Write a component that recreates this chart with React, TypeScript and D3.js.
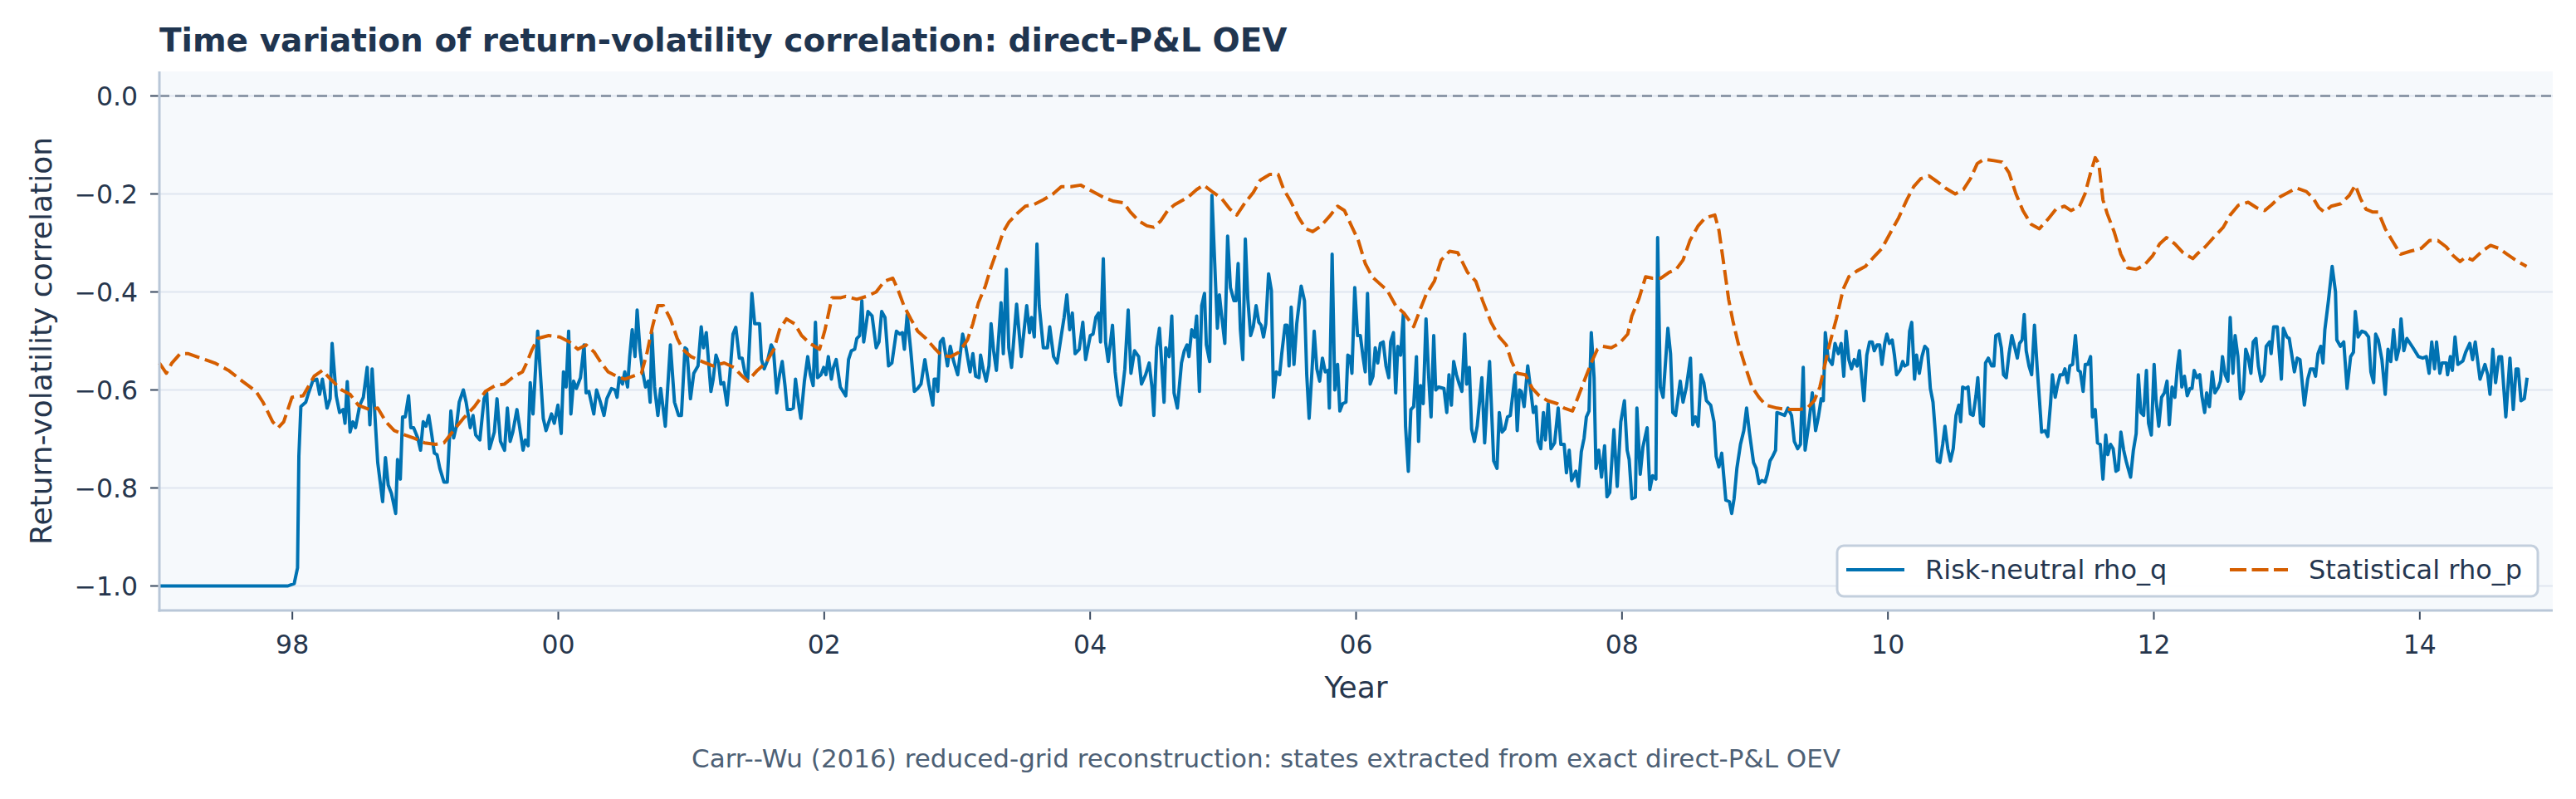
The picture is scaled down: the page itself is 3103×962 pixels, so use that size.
/**
 * Return-volatility correlation over time, risk-neutral vs statistical.
 * Drawn with D3 into a single svg.
 **/
import React, { useEffect, useRef } from "react";
import * as d3 from "d3";

type Pt = [number, number];

/** Risk-neutral rho_q, decimal year / correlation */
const rhoQ1997to1999: Pt[] = [
  [1997.0, -1.0], [1997.966, -1.0], [1998.014, -0.995], [1998.039, -0.963], [1998.049, -0.735],
  [1998.064, -0.634], [1998.101, -0.625], [1998.122, -0.606], [1998.153, -0.582], [1998.184, -0.578],
  [1998.205, -0.609], [1998.226, -0.578], [1998.261, -0.637], [1998.284, -0.618], [1998.299, -0.505],
  [1998.33, -0.612], [1998.355, -0.646], [1998.382, -0.64], [1998.396, -0.668], [1998.413, -0.583],
  [1998.434, -0.686], [1998.455, -0.665], [1998.475, -0.677], [1998.507, -0.631], [1998.534, -0.615],
  [1998.563, -0.554], [1998.583, -0.671], [1998.6, -0.557], [1998.642, -0.748], [1998.679, -0.828],
  [1998.7, -0.738], [1998.721, -0.794], [1998.746, -0.812], [1998.777, -0.852], [1998.791, -0.742],
  [1998.812, -0.782], [1998.829, -0.655], [1998.849, -0.655], [1998.874, -0.612], [1998.891, -0.677],
  [1998.912, -0.677], [1998.943, -0.698], [1998.964, -0.723], [1998.984, -0.665], [1999.005, -0.674],
  [1999.026, -0.652], [1999.047, -0.689], [1999.068, -0.729], [1999.088, -0.732], [1999.109, -0.76],
  [1999.14, -0.788], [1999.165, -0.788], [1999.192, -0.643], [1999.213, -0.698], [1999.234, -0.674],
  [1999.255, -0.625], [1999.286, -0.6], [1999.307, -0.625], [1999.338, -0.677], [1999.359, -0.652],
  [1999.379, -0.692], [1999.41, -0.702], [1999.442, -0.618], [1999.462, -0.606], [1999.483, -0.72],
  [1999.519, -0.686], [1999.539, -0.618],
];

const rhoQ1999to2002: Pt[] = [
  [1999.565, -0.705], [1999.596, -0.723], [1999.617, -0.637], [1999.638, -0.705], [1999.658, -0.686],
  [1999.689, -0.64], [1999.71, -0.677], [1999.735, -0.723], [1999.752, -0.702], [1999.773, -0.714],
  [1999.789, -0.585], [1999.81, -0.649], [1999.845, -0.48], [1999.887, -0.658], [1999.908, -0.683],
  [1999.949, -0.649], [1999.97, -0.668], [1999.997, -0.631], [2000.022, -0.689], [2000.039, -0.563],
  [2000.059, -0.594], [2000.078, -0.48], [2000.095, -0.649], [2000.115, -0.582], [2000.136, -0.597],
  [2000.167, -0.575], [2000.194, -0.508], [2000.209, -0.606], [2000.23, -0.603], [2000.267, -0.649],
  [2000.288, -0.6], [2000.317, -0.625], [2000.344, -0.652], [2000.365, -0.618], [2000.4, -0.597],
  [2000.427, -0.6], [2000.442, -0.615], [2000.458, -0.575], [2000.483, -0.588], [2000.5, -0.563],
  [2000.521, -0.594], [2000.537, -0.532], [2000.556, -0.477], [2000.577, -0.532], [2000.593, -0.437],
  [2000.614, -0.517], [2000.635, -0.563], [2000.656, -0.594], [2000.677, -0.582], [2000.691, -0.625],
  [2000.704, -0.483], [2000.724, -0.594], [2000.749, -0.652], [2000.77, -0.597], [2000.805, -0.674],
  [2000.843, -0.508], [2000.874, -0.625], [2000.905, -0.652], [2000.926, -0.652], [2000.953, -0.514],
  [2000.967, -0.517], [2000.994, -0.618], [2001.019, -0.566], [2001.051, -0.551], [2001.075, -0.471],
  [2001.092, -0.514], [2001.113, -0.483], [2001.148, -0.603], [2001.165, -0.578], [2001.186, -0.529],
  [2001.206, -0.545], [2001.223, -0.588], [2001.244, -0.585], [2001.269, -0.631], [2001.29, -0.569],
  [2001.314, -0.486], [2001.335, -0.472], [2001.362, -0.535], [2001.383, -0.535], [2001.404, -0.566],
  [2001.425, -0.578], [2001.456, -0.403], [2001.477, -0.465], [2001.514, -0.465], [2001.528, -0.538],
  [2001.549, -0.557], [2001.576, -0.538], [2001.601, -0.508], [2001.618, -0.517], [2001.643, -0.606],
  [2001.664, -0.569], [2001.684, -0.542], [2001.705, -0.591], [2001.722, -0.64], [2001.747, -0.64],
  [2001.768, -0.637], [2001.784, -0.578], [2001.809, -0.631], [2001.824, -0.658], [2001.851, -0.582],
  [2001.876, -0.532], [2001.896, -0.569], [2001.917, -0.591], [2001.934, -0.462], [2001.95, -0.575],
  [2001.975, -0.569], [2001.996, -0.554], [2002.013, -0.569], [2002.031, -0.532], [2002.054, -0.578],
  [2002.069, -0.554], [2002.09, -0.538],
];

const rhoQ2002to2004: Pt[] = [
  [2002.121, -0.594], [2002.162, -0.612], [2002.183, -0.538], [2002.204, -0.52], [2002.229, -0.517],
  [2002.245, -0.495], [2002.266, -0.489], [2002.283, -0.418], [2002.297, -0.502], [2002.329, -0.44],
  [2002.36, -0.449], [2002.391, -0.514], [2002.412, -0.502], [2002.432, -0.44], [2002.457, -0.452],
  [2002.484, -0.551], [2002.509, -0.545], [2002.543, -0.48], [2002.568, -0.486], [2002.588, -0.483],
  [2002.603, -0.517], [2002.624, -0.446], [2002.651, -0.52], [2002.678, -0.603], [2002.703, -0.597],
  [2002.728, -0.588], [2002.757, -0.538], [2002.786, -0.588], [2002.817, -0.631], [2002.827, -0.578],
  [2002.844, -0.578], [2002.854, -0.603], [2002.873, -0.502], [2002.894, -0.495], [2002.927, -0.551],
  [2002.948, -0.511], [2002.973, -0.541], [2003.004, -0.569], [2003.041, -0.486], [2003.066, -0.514],
  [2003.097, -0.563], [2003.118, -0.526], [2003.139, -0.572], [2003.164, -0.575], [2003.176, -0.529],
  [2003.195, -0.557], [2003.218, -0.582], [2003.239, -0.551], [2003.255, -0.465], [2003.274, -0.52],
  [2003.295, -0.56], [2003.33, -0.422], [2003.347, -0.526], [2003.37, -0.354], [2003.388, -0.514],
  [2003.409, -0.554], [2003.447, -0.425], [2003.482, -0.532], [2003.523, -0.428], [2003.544, -0.483],
  [2003.559, -0.452], [2003.58, -0.492], [2003.6, -0.302], [2003.617, -0.428], [2003.648, -0.514],
  [2003.679, -0.514], [2003.696, -0.471], [2003.725, -0.532], [2003.752, -0.545], [2003.783, -0.489],
  [2003.804, -0.452], [2003.825, -0.406], [2003.846, -0.477], [2003.866, -0.443], [2003.887, -0.526],
  [2003.918, -0.517], [2003.945, -0.462], [2003.966, -0.538], [2004.001, -0.489], [2004.022, -0.486],
  [2004.043, -0.452], [2004.064, -0.443], [2004.078, -0.502], [2004.099, -0.332], [2004.116, -0.502],
  [2004.136, -0.542], [2004.168, -0.468], [2004.188, -0.563], [2004.209, -0.612], [2004.23, -0.631],
  [2004.261, -0.557], [2004.286, -0.437], [2004.307, -0.566], [2004.334, -0.52], [2004.365, -0.532],
  [2004.386, -0.588], [2004.417, -0.569], [2004.444, -0.545], [2004.465, -0.594], [2004.479, -0.652],
  [2004.5, -0.514], [2004.521, -0.474], [2004.556, -0.625], [2004.569, -0.514], [2004.594, -0.532],
  [2004.614, -0.449], [2004.631, -0.606], [2004.656, -0.637],
];

const rhoQ2004to2007: Pt[] = [
  [2004.687, -0.545], [2004.708, -0.52], [2004.729, -0.508], [2004.743, -0.532], [2004.764, -0.477],
  [2004.785, -0.492], [2004.801, -0.449], [2004.822, -0.603], [2004.839, -0.428], [2004.86, -0.403],
  [2004.874, -0.508], [2004.899, -0.542], [2004.916, -0.203], [2004.937, -0.342], [2004.957, -0.474],
  [2004.972, -0.406], [2004.988, -0.446], [2005.013, -0.505], [2005.034, -0.286], [2005.055, -0.391],
  [2005.082, -0.418], [2005.097, -0.418], [2005.113, -0.342], [2005.13, -0.477], [2005.148, -0.538],
  [2005.167, -0.292], [2005.186, -0.415], [2005.207, -0.489], [2005.227, -0.471], [2005.248, -0.428],
  [2005.269, -0.462], [2005.286, -0.468], [2005.304, -0.492], [2005.321, -0.465], [2005.342, -0.363],
  [2005.363, -0.397], [2005.379, -0.615], [2005.4, -0.563], [2005.425, -0.569], [2005.441, -0.526],
  [2005.466, -0.468], [2005.481, -0.468], [2005.496, -0.551], [2005.512, -0.431], [2005.533, -0.548],
  [2005.554, -0.465], [2005.587, -0.388], [2005.612, -0.418], [2005.629, -0.569], [2005.647, -0.658],
  [2005.668, -0.563], [2005.685, -0.48], [2005.705, -0.557], [2005.726, -0.582], [2005.747, -0.535],
  [2005.768, -0.563], [2005.789, -0.56], [2005.799, -0.637], [2005.82, -0.323], [2005.84, -0.6],
  [2005.861, -0.548], [2005.878, -0.643], [2005.899, -0.628], [2005.924, -0.625], [2005.938, -0.529],
  [2005.955, -0.532], [2005.969, -0.566], [2005.99, -0.391], [2006.011, -0.489], [2006.032, -0.489],
  [2006.052, -0.532], [2006.069, -0.563], [2006.086, -0.403], [2006.106, -0.588], [2006.127, -0.572],
  [2006.144, -0.514], [2006.163, -0.545], [2006.183, -0.505], [2006.204, -0.502], [2006.225, -0.551],
  [2006.246, -0.575], [2006.26, -0.502], [2006.281, -0.483], [2006.298, -0.606], [2006.314, -0.511],
  [2006.335, -0.529], [2006.356, -0.443], [2006.372, -0.674], [2006.393, -0.766], [2006.412, -0.64],
  [2006.433, -0.634], [2006.454, -0.532], [2006.47, -0.705], [2006.485, -0.591], [2006.505, -0.628],
  [2006.526, -0.455], [2006.547, -0.578], [2006.564, -0.655], [2006.584, -0.489], [2006.599, -0.6],
  [2006.62, -0.594], [2006.661, -0.597], [2006.682, -0.646], [2006.699, -0.569], [2006.717, -0.631],
  [2006.734, -0.542], [2006.755, -0.569], [2006.776, -0.588], [2006.796, -0.603], [2006.817, -0.486],
  [2006.832, -0.588], [2006.852, -0.554], [2006.869, -0.68], [2006.89, -0.705], [2006.911, -0.674],
  [2006.946, -0.575], [2006.967, -0.708], [2006.988, -0.606], [2007.004, -0.542], [2007.035, -0.745],
  [2007.06, -0.76], [2007.077, -0.646], [2007.098, -0.686], [2007.118, -0.68], [2007.139, -0.655],
  [2007.16, -0.652], [2007.196, -0.569],
];

const rhoQ2007to2009: Pt[] = [
  [2007.212, -0.683], [2007.229, -0.6], [2007.243, -0.603], [2007.264, -0.634], [2007.291, -0.551],
  [2007.316, -0.606], [2007.333, -0.646], [2007.353, -0.634], [2007.368, -0.705], [2007.389, -0.72],
  [2007.409, -0.646], [2007.424, -0.702], [2007.445, -0.628], [2007.466, -0.72], [2007.493, -0.708],
  [2007.52, -0.637], [2007.54, -0.711], [2007.565, -0.711], [2007.582, -0.769], [2007.603, -0.723],
  [2007.621, -0.785], [2007.653, -0.766], [2007.673, -0.797], [2007.694, -0.726], [2007.715, -0.698],
  [2007.732, -0.655], [2007.752, -0.643], [2007.769, -0.483], [2007.79, -0.575], [2007.804, -0.76],
  [2007.825, -0.723], [2007.846, -0.778], [2007.869, -0.714], [2007.887, -0.818], [2007.908, -0.809],
  [2007.939, -0.681], [2007.964, -0.797], [2007.991, -0.665], [2008.018, -0.622], [2008.039, -0.723],
  [2008.054, -0.742], [2008.074, -0.822], [2008.101, -0.819], [2008.112, -0.637], [2008.137, -0.772],
  [2008.157, -0.717], [2008.189, -0.677], [2008.209, -0.803], [2008.23, -0.775], [2008.255, -0.782],
  [2008.268, -0.289], [2008.288, -0.594], [2008.309, -0.615], [2008.345, -0.474], [2008.365, -0.526],
  [2008.382, -0.646], [2008.403, -0.652], [2008.438, -0.582], [2008.459, -0.625], [2008.484, -0.594],
  [2008.515, -0.535], [2008.532, -0.671], [2008.552, -0.655], [2008.573, -0.674], [2008.594, -0.569],
  [2008.615, -0.585], [2008.635, -0.622], [2008.667, -0.631], [2008.692, -0.665], [2008.708, -0.735],
  [2008.729, -0.757], [2008.75, -0.729], [2008.781, -0.825], [2008.808, -0.828], [2008.825, -0.852],
  [2008.843, -0.822], [2008.864, -0.76], [2008.891, -0.711], [2008.916, -0.683], [2008.937, -0.637],
  [2008.958, -0.686], [2008.989, -0.748], [2009.009, -0.76], [2009.03, -0.791], [2009.051, -0.785],
  [2009.076, -0.788], [2009.093, -0.772], [2009.113, -0.745], [2009.134, -0.735], [2009.155, -0.723],
  [2009.165, -0.646], [2009.196, -0.649], [2009.223, -0.652], [2009.248, -0.637], [2009.275, -0.652],
  [2009.296, -0.705], [2009.321, -0.72], [2009.342, -0.711], [2009.363, -0.554], [2009.377, -0.723],
  [2009.404, -0.671], [2009.431, -0.606], [2009.456, -0.683], [2009.477, -0.655], [2009.498, -0.618],
  [2009.514, -0.622], [2009.529, -0.483], [2009.55, -0.535], [2009.581, -0.548], [2009.602, -0.505],
  [2009.627, -0.526], [2009.648, -0.505], [2009.668, -0.572], [2009.685, -0.48], [2009.706, -0.538],
  [2009.726, -0.557], [2009.747, -0.538],
];

const rhoQ2009to2012: Pt[] = [
  [2009.768, -0.551], [2009.785, -0.52], [2009.799, -0.563], [2009.82, -0.622], [2009.841, -0.529],
  [2009.862, -0.502], [2009.882, -0.502], [2009.897, -0.52], [2009.918, -0.508], [2009.938, -0.508],
  [2009.955, -0.548], [2009.976, -0.505], [2009.992, -0.486], [2010.011, -0.505], [2010.032, -0.498],
  [2010.049, -0.529], [2010.065, -0.569], [2010.09, -0.56], [2010.111, -0.542], [2010.125, -0.551],
  [2010.148, -0.548], [2010.163, -0.48], [2010.179, -0.462], [2010.2, -0.578], [2010.215, -0.529],
  [2010.236, -0.566], [2010.256, -0.532], [2010.277, -0.511], [2010.298, -0.517], [2010.319, -0.597],
  [2010.339, -0.625], [2010.36, -0.698], [2010.371, -0.745], [2010.391, -0.748], [2010.412, -0.711],
  [2010.429, -0.674], [2010.45, -0.72], [2010.47, -0.745], [2010.491, -0.72], [2010.512, -0.652],
  [2010.533, -0.631], [2010.547, -0.665], [2010.562, -0.594], [2010.583, -0.597], [2010.603, -0.594],
  [2010.62, -0.649], [2010.641, -0.652], [2010.662, -0.612], [2010.676, -0.575], [2010.697, -0.668],
  [2010.718, -0.674], [2010.734, -0.545], [2010.755, -0.535], [2010.78, -0.551], [2010.797, -0.551],
  [2010.811, -0.489], [2010.834, -0.486], [2010.853, -0.514], [2010.869, -0.569], [2010.89, -0.575],
  [2010.911, -0.526], [2010.932, -0.489], [2010.952, -0.511], [2010.973, -0.535], [2010.99, -0.505],
  [2011.009, -0.498], [2011.025, -0.446], [2011.04, -0.52], [2011.061, -0.551], [2011.081, -0.569],
  [2011.102, -0.468], [2011.123, -0.557], [2011.14, -0.622], [2011.156, -0.686], [2011.181, -0.683],
  [2011.202, -0.695], [2011.223, -0.628], [2011.237, -0.569], [2011.258, -0.615], [2011.275, -0.591],
  [2011.295, -0.569], [2011.316, -0.569], [2011.331, -0.557], [2011.351, -0.585], [2011.368, -0.551],
  [2011.389, -0.548], [2011.41, -0.489], [2011.43, -0.56], [2011.447, -0.563], [2011.468, -0.603],
  [2011.484, -0.548], [2011.503, -0.548], [2011.524, -0.532], [2011.538, -0.655], [2011.559, -0.64],
  [2011.576, -0.708], [2011.597, -0.711], [2011.617, -0.782], [2011.638, -0.692], [2011.653, -0.732],
  [2011.674, -0.711], [2011.694, -0.72], [2011.715, -0.766], [2011.732, -0.763], [2011.752, -0.686],
  [2011.773, -0.723], [2011.794, -0.748], [2011.825, -0.778], [2011.846, -0.723], [2011.867, -0.689],
  [2011.883, -0.569], [2011.902, -0.646], [2011.923, -0.652], [2011.944, -0.56], [2011.96, -0.668],
  [2011.981, -0.692], [2012.002, -0.548], [2012.016, -0.618], [2012.037, -0.674], [2012.058, -0.615],
  [2012.079, -0.606], [2012.099, -0.582], [2012.116, -0.671], [2012.137, -0.594], [2012.158, -0.615],
  [2012.178, -0.551], [2012.193, -0.52], [2012.21, -0.594], [2012.23, -0.572], [2012.251, -0.612],
  [2012.272, -0.597], [2012.287, -0.597], [2012.303, -0.56],
];

const rhoQ2012to2014: Pt[] = [
  [2012.324, -0.575], [2012.345, -0.569], [2012.361, -0.612], [2012.382, -0.646], [2012.397, -0.606],
  [2012.418, -0.634], [2012.439, -0.563], [2012.459, -0.606], [2012.486, -0.594], [2012.501, -0.582],
  [2012.516, -0.532], [2012.536, -0.569], [2012.557, -0.582], [2012.574, -0.452], [2012.595, -0.566],
  [2012.611, -0.489], [2012.632, -0.532], [2012.651, -0.618], [2012.674, -0.603], [2012.691, -0.517],
  [2012.709, -0.532], [2012.73, -0.566], [2012.747, -0.502], [2012.768, -0.495], [2012.786, -0.551],
  [2012.807, -0.582], [2012.83, -0.569], [2012.845, -0.511], [2012.87, -0.502], [2012.882, -0.526],
  [2012.901, -0.471], [2012.928, -0.471], [2012.959, -0.578], [2012.974, -0.474], [2013.001, -0.492],
  [2013.018, -0.495], [2013.036, -0.526], [2013.057, -0.563], [2013.078, -0.535], [2013.099, -0.538],
  [2013.132, -0.631], [2013.157, -0.578], [2013.178, -0.557], [2013.199, -0.557], [2013.216, -0.572],
  [2013.234, -0.526], [2013.255, -0.511], [2013.272, -0.545], [2013.286, -0.477], [2013.313, -0.418],
  [2013.341, -0.348], [2013.366, -0.4], [2013.376, -0.498], [2013.403, -0.511], [2013.428, -0.502],
  [2013.453, -0.597], [2013.48, -0.532], [2013.501, -0.523], [2013.515, -0.44], [2013.536, -0.492],
  [2013.563, -0.48], [2013.591, -0.483], [2013.615, -0.492], [2013.632, -0.563], [2013.653, -0.585],
  [2013.668, -0.486], [2013.688, -0.498], [2013.715, -0.538], [2013.74, -0.609], [2013.761, -0.517],
  [2013.782, -0.542], [2013.803, -0.477], [2013.824, -0.538], [2013.845, -0.514], [2013.859, -0.455],
  [2013.88, -0.52], [2013.903, -0.495], [2013.949, -0.514], [2013.99, -0.532], [2014.022, -0.535],
  [2014.049, -0.532], [2014.07, -0.566], [2014.09, -0.502], [2014.111, -0.557], [2014.126, -0.502],
  [2014.151, -0.566], [2014.167, -0.545], [2014.199, -0.545], [2014.209, -0.569], [2014.23, -0.532],
  [2014.245, -0.56], [2014.265, -0.492], [2014.286, -0.548], [2014.324, -0.541], [2014.345, -0.523],
  [2014.376, -0.505], [2014.397, -0.538], [2014.417, -0.502], [2014.453, -0.578], [2014.49, -0.548],
  [2014.511, -0.569], [2014.528, -0.609], [2014.549, -0.517], [2014.57, -0.585], [2014.595, -0.532],
  [2014.615, -0.532], [2014.647, -0.655], [2014.678, -0.535], [2014.703, -0.64], [2014.724, -0.557],
  [2014.74, -0.557], [2014.761, -0.622], [2014.786, -0.618], [2014.807, -0.575],
];

/** Statistical rho_p, decimal year / correlation */
const rhoP1997to2002: Pt[] = [
  [1997.0, -0.545], [1997.052, -0.566], [1997.094, -0.545], [1997.156, -0.526], [1997.218, -0.526],
  [1997.312, -0.535], [1997.416, -0.545], [1997.52, -0.56], [1997.623, -0.582], [1997.727, -0.603],
  [1997.779, -0.625], [1997.852, -0.665], [1997.894, -0.677], [1997.935, -0.665], [1997.997, -0.615],
  [1998.081, -0.612], [1998.164, -0.572], [1998.226, -0.56], [1998.288, -0.578], [1998.371, -0.6],
  [1998.434, -0.609], [1998.496, -0.631], [1998.579, -0.64], [1998.642, -0.637], [1998.704, -0.665],
  [1998.766, -0.683], [1998.849, -0.692], [1998.912, -0.698], [1998.995, -0.708], [1999.078, -0.711],
  [1999.14, -0.708], [1999.203, -0.686], [1999.286, -0.658], [1999.369, -0.634], [1999.452, -0.603],
  [1999.525, -0.591], [1999.596, -0.588], [1999.669, -0.572], [1999.731, -0.563], [1999.762, -0.545],
  [1999.804, -0.517], [1999.845, -0.495], [1999.928, -0.489], [2000.012, -0.492], [2000.084, -0.502],
  [2000.147, -0.517], [2000.209, -0.508], [2000.271, -0.523], [2000.323, -0.545], [2000.375, -0.563],
  [2000.438, -0.572], [2000.5, -0.578], [2000.562, -0.572], [2000.625, -0.566], [2000.666, -0.526],
  [2000.708, -0.471], [2000.749, -0.428], [2000.791, -0.428], [2000.843, -0.455], [2000.895, -0.495],
  [2000.936, -0.517], [2000.999, -0.532], [2001.082, -0.542], [2001.165, -0.551], [2001.248, -0.545],
  [2001.321, -0.554], [2001.373, -0.569], [2001.425, -0.582], [2001.497, -0.56], [2001.56, -0.545],
  [2001.622, -0.517], [2001.664, -0.477], [2001.716, -0.455], [2001.778, -0.465], [2001.83, -0.489],
  [2001.892, -0.505], [2001.965, -0.517], [2002.006, -0.477], [2002.058, -0.412], [2002.121, -0.412],
];

const rhoP2002to2007: Pt[] = [
  [2002.162, -0.409], [2002.245, -0.415], [2002.318, -0.409], [2002.391, -0.4], [2002.453, -0.378],
  [2002.516, -0.372], [2002.557, -0.397], [2002.599, -0.428], [2002.651, -0.455], [2002.703, -0.48],
  [2002.765, -0.495], [2002.827, -0.514], [2002.879, -0.529], [2002.952, -0.532], [2003.014, -0.523],
  [2003.077, -0.498], [2003.118, -0.465], [2003.16, -0.422], [2003.212, -0.388], [2003.253, -0.351],
  [2003.305, -0.311], [2003.347, -0.277], [2003.388, -0.258], [2003.451, -0.24], [2003.513, -0.225],
  [2003.575, -0.222], [2003.648, -0.212], [2003.721, -0.2], [2003.783, -0.185], [2003.856, -0.185],
  [2003.929, -0.182], [2003.991, -0.191], [2004.053, -0.2], [2004.116, -0.209], [2004.178, -0.215],
  [2004.251, -0.218], [2004.303, -0.237], [2004.365, -0.255], [2004.427, -0.265], [2004.479, -0.268],
  [2004.531, -0.255], [2004.583, -0.234], [2004.635, -0.222], [2004.739, -0.206], [2004.801, -0.191],
  [2004.853, -0.182], [2004.926, -0.197], [2004.988, -0.209], [2005.051, -0.231], [2005.103, -0.243],
  [2005.165, -0.218], [2005.227, -0.197], [2005.279, -0.172], [2005.352, -0.16], [2005.414, -0.16],
  [2005.456, -0.191], [2005.508, -0.215], [2005.57, -0.249], [2005.622, -0.271], [2005.674, -0.277],
  [2005.737, -0.265], [2005.799, -0.246], [2005.861, -0.225], [2005.913, -0.234], [2005.965, -0.265],
  [2006.017, -0.295], [2006.069, -0.342], [2006.121, -0.369], [2006.173, -0.382], [2006.235, -0.397],
  [2006.298, -0.428], [2006.36, -0.443], [2006.433, -0.471], [2006.485, -0.434], [2006.526, -0.406],
  [2006.589, -0.378], [2006.64, -0.335], [2006.703, -0.317], [2006.765, -0.32], [2006.838, -0.36],
  [2006.9, -0.378], [2006.952, -0.418], [2007.015, -0.462], [2007.077, -0.492], [2007.129, -0.508],
  [2007.17, -0.542], [2007.212, -0.566],
];

const rhoP2007to2012: Pt[] = [
  [2007.274, -0.569], [2007.326, -0.597], [2007.378, -0.612], [2007.441, -0.622], [2007.513, -0.628],
  [2007.565, -0.637], [2007.628, -0.643], [2007.669, -0.615], [2007.721, -0.578], [2007.773, -0.542],
  [2007.815, -0.517], [2007.856, -0.511], [2007.919, -0.514], [2007.981, -0.505], [2008.043, -0.486],
  [2008.074, -0.449], [2008.126, -0.415], [2008.178, -0.369], [2008.23, -0.372], [2008.293, -0.372],
  [2008.355, -0.36], [2008.407, -0.354], [2008.459, -0.335], [2008.511, -0.295], [2008.573, -0.265],
  [2008.625, -0.249], [2008.698, -0.243], [2008.729, -0.274], [2008.771, -0.354], [2008.802, -0.415],
  [2008.833, -0.458], [2008.874, -0.505], [2008.926, -0.551], [2008.978, -0.594], [2009.03, -0.615],
  [2009.082, -0.631], [2009.165, -0.637], [2009.248, -0.64], [2009.332, -0.64], [2009.394, -0.637],
  [2009.446, -0.622], [2009.488, -0.594], [2009.519, -0.557], [2009.56, -0.508], [2009.612, -0.455],
  [2009.664, -0.394], [2009.706, -0.369], [2009.768, -0.357], [2009.83, -0.348], [2009.893, -0.329],
  [2009.955, -0.311], [2010.017, -0.28], [2010.08, -0.249], [2010.142, -0.212], [2010.194, -0.185],
  [2010.246, -0.169], [2010.308, -0.163], [2010.371, -0.175], [2010.433, -0.188], [2010.506, -0.2],
  [2010.568, -0.191], [2010.62, -0.169], [2010.672, -0.138], [2010.724, -0.129], [2010.797, -0.132],
  [2010.859, -0.135], [2010.911, -0.157], [2010.963, -0.2], [2011.015, -0.234], [2011.077, -0.262],
  [2011.139, -0.271], [2011.202, -0.252], [2011.264, -0.231], [2011.327, -0.225], [2011.378, -0.234],
  [2011.441, -0.225], [2011.482, -0.2], [2011.524, -0.157], [2011.559, -0.126], [2011.586, -0.138],
  [2011.617, -0.212], [2011.649, -0.24], [2011.701, -0.277], [2011.752, -0.323], [2011.804, -0.351],
  [2011.867, -0.354], [2011.929, -0.345], [2011.991, -0.326], [2012.043, -0.302], [2012.095, -0.289],
  [2012.158, -0.302], [2012.22, -0.32], [2012.293, -0.332],
];

const rhoP2012to2014: Pt[] = [
  [2012.324, -0.323], [2012.386, -0.308], [2012.449, -0.289], [2012.522, -0.268], [2012.574, -0.243],
  [2012.636, -0.223], [2012.709, -0.217], [2012.772, -0.228], [2012.834, -0.234], [2012.886, -0.222],
  [2012.949, -0.206], [2013.011, -0.197], [2013.074, -0.188], [2013.147, -0.195], [2013.199, -0.209],
  [2013.241, -0.228], [2013.282, -0.237], [2013.334, -0.225], [2013.407, -0.22], [2013.47, -0.203],
  [2013.515, -0.182], [2013.553, -0.209], [2013.595, -0.231], [2013.647, -0.237], [2013.688, -0.237],
  [2013.74, -0.271], [2013.792, -0.295], [2013.855, -0.323], [2013.928, -0.317], [2014.011, -0.311],
  [2014.074, -0.295], [2014.136, -0.295], [2014.199, -0.308], [2014.251, -0.326], [2014.303, -0.338],
  [2014.345, -0.329], [2014.397, -0.335], [2014.469, -0.317], [2014.532, -0.305], [2014.594, -0.311],
  [2014.657, -0.323], [2014.72, -0.335], [2014.803, -0.348],
];

const xTickYears = [1998, 2000, 2002, 2004, 2006, 2008, 2010, 2012, 2014];
const yTickValues = [0.0, -0.2, -0.4, -0.6, -0.8, -1.0];
const seriesLabels = ["Risk-neutral rho_q", "Statistical rho_p"];

const rhoQ = [
  ...rhoQ1997to1999, ...rhoQ1999to2002, ...rhoQ2002to2004, ...rhoQ2004to2007,
  ...rhoQ2007to2009, ...rhoQ2009to2012, ...rhoQ2012to2014,
];
const rhoP = [...rhoP1997to2002, ...rhoP2002to2007, ...rhoP2007to2012, ...rhoP2012to2014];

const WIDTH = 3103;
const HEIGHT = 962;
const FONT = "'DejaVu Sans', Verdana, sans-serif";
const BLUE = "#0072b2";
const ORANGE = "#d55e00";
const INK = "#26364d";

export default function App(): React.ReactElement {
  const ref = useRef<SVGSVGElement | null>(null);

  useEffect(() => {
    const margin = { top: 86, right: WIDTH - 3075, bottom: HEIGHT - 735, left: 192 };
    const x = d3.scaleLinear().domain([1997.0, 2015.0]).range([margin.left, WIDTH - margin.right]);
    const y = d3.scaleLinear().domain([-1.05, 0.05]).range([HEIGHT - margin.bottom, margin.top]);
    const [x0, x1] = x.range();
    const [y1, y0] = y.range();

    const svg = d3.select(ref.current).attr("width", WIDTH).attr("height", HEIGHT);
    svg.selectAll("*").remove();
    svg.append("rect").attr("width", WIDTH).attr("height", HEIGHT).attr("fill", "#ffffff");

    // plot area
    svg.append("rect")
      .attr("x", x0).attr("y", y0).attr("width", x1 - x0).attr("height", y1 - y0)
      .attr("fill", "#f6f9fc");

    // horizontal grid
    svg.append("g")
      .selectAll("line")
      .data(yTickValues)
      .join("line")
      .attr("x1", x0).attr("x2", x1)
      .attr("y1", (d) => y(d)).attr("y2", (d) => y(d))
      .attr("stroke", "#dfe6ef").attr("stroke-width", 2);

    // zero reference
    svg.append("line")
      .attr("x1", x0).attr("x2", x1).attr("y1", y(0)).attr("y2", y(0))
      .attr("stroke", "#7d8a9c").attr("stroke-width", 2.4).attr("stroke-dasharray", "12 7");

    const line = d3.line<Pt>().x((d) => x(d[0])).y((d) => y(d[1]));

    svg.append("path")
      .datum(rhoQ)
      .attr("d", line)
      .attr("fill", "none").attr("stroke", BLUE).attr("stroke-width", 4)
      .attr("stroke-linejoin", "round");

    svg.append("path")
      .datum(rhoP)
      .attr("d", line)
      .attr("fill", "none").attr("stroke", ORANGE).attr("stroke-width", 4)
      .attr("stroke-dasharray", "18 7").attr("stroke-linejoin", "round");

    // spines
    svg.append("line").attr("x1", x0).attr("x2", x0).attr("y1", y0).attr("y2", y1 + 1.5)
      .attr("stroke", "#b9c7d8").attr("stroke-width", 3);
    svg.append("line").attr("x1", x0 - 1.5).attr("x2", x1).attr("y1", y1).attr("y2", y1)
      .attr("stroke", "#b9c7d8").attr("stroke-width", 3);

    // y ticks
    const yt = svg.append("g").selectAll("g").data(yTickValues).join("g");
    yt.append("line")
      .attr("x1", x0 - 11).attr("x2", x0 - 1.5)
      .attr("y1", (d) => y(d)).attr("y2", (d) => y(d))
      .attr("stroke", "#3a4a60").attr("stroke-width", 2);
    yt.append("text")
      .attr("x", x0 - 26).attr("y", (d) => y(d) + 11)
      .attr("text-anchor", "end")
      .attr("font-family", FONT).attr("font-size", 31.5).attr("fill", INK)
      .text((d) => d3.format(".1f")(d));

    // x ticks
    const xt = svg.append("g").selectAll("g").data(xTickYears).join("g");
    xt.append("line")
      .attr("x1", (d) => x(d)).attr("x2", (d) => x(d))
      .attr("y1", y1 + 1.5).attr("y2", y1 + 11)
      .attr("stroke", "#3a4a60").attr("stroke-width", 2);
    xt.append("text")
      .attr("x", (d) => x(d)).attr("y", 787)
      .attr("text-anchor", "middle")
      .attr("font-family", FONT).attr("font-size", 31.5).attr("fill", INK)
      .text((d) => String(d % 100).padStart(2, "0"));

    // axis titles
    svg.append("text")
      .attr("x", (x0 + x1) / 2).attr("y", 840)
      .attr("text-anchor", "middle")
      .attr("font-family", FONT).attr("font-size", 36).attr("fill", INK)
      .text("Year");
    svg.append("text")
      .attr("transform", `translate(62,${(y0 + y1) / 2}) rotate(-90)`)
      .attr("text-anchor", "middle")
      .attr("font-family", FONT).attr("font-size", 36).attr("fill", INK)
      .text("Return-volatility correlation");

    // title
    svg.append("text")
      .attr("x", x0).attr("y", 62)
      .attr("font-family", FONT).attr("font-size", 39).attr("font-weight", "bold")
      .attr("fill", "#1f3550")
      .text("Time variation of return-volatility correlation: direct-P&L OEV");

    // footnote
    svg.append("text")
      .attr("x", 1525).attr("y", 924)
      .attr("text-anchor", "middle")
      .attr("font-family", FONT).attr("font-size", 31).attr("fill", "#4d6075")
      .text("Carr--Wu (2016) reduced-grid reconstruction: states extracted from exact direct-P&L OEV");

    // legend
    const lg = svg.append("g");
    lg.append("rect")
      .attr("x", 2213).attr("y", 657).attr("width", 844).attr("height", 61).attr("rx", 8)
      .attr("fill", "#ffffff").attr("fill-opacity", 0.92)
      .attr("stroke", "#c3cfdd").attr("stroke-width", 3);
    const items = [
      { label: seriesLabels[0], color: BLUE, dash: null, x: 2224 },
      { label: seriesLabels[1], color: ORANGE, dash: "20 6.5", x: 2686 },
    ];
    items.forEach((it) => {
      lg.append("line")
        .attr("x1", it.x).attr("x2", it.x + 70).attr("y1", 686).attr("y2", 686)
        .attr("stroke", it.color).attr("stroke-width", 4)
        .attr("stroke-dasharray", it.dash);
      lg.append("text")
        .attr("x", it.x + 95).attr("y", 697)
        .attr("font-family", FONT).attr("font-size", 32).attr("fill", "#243650")
        .text(it.label);
    });
  }, []);

  return (
    <div style={{ position: "absolute", left: 0, top: 0 }}>
      <svg ref={ref}></svg>
    </div>
  );
}
